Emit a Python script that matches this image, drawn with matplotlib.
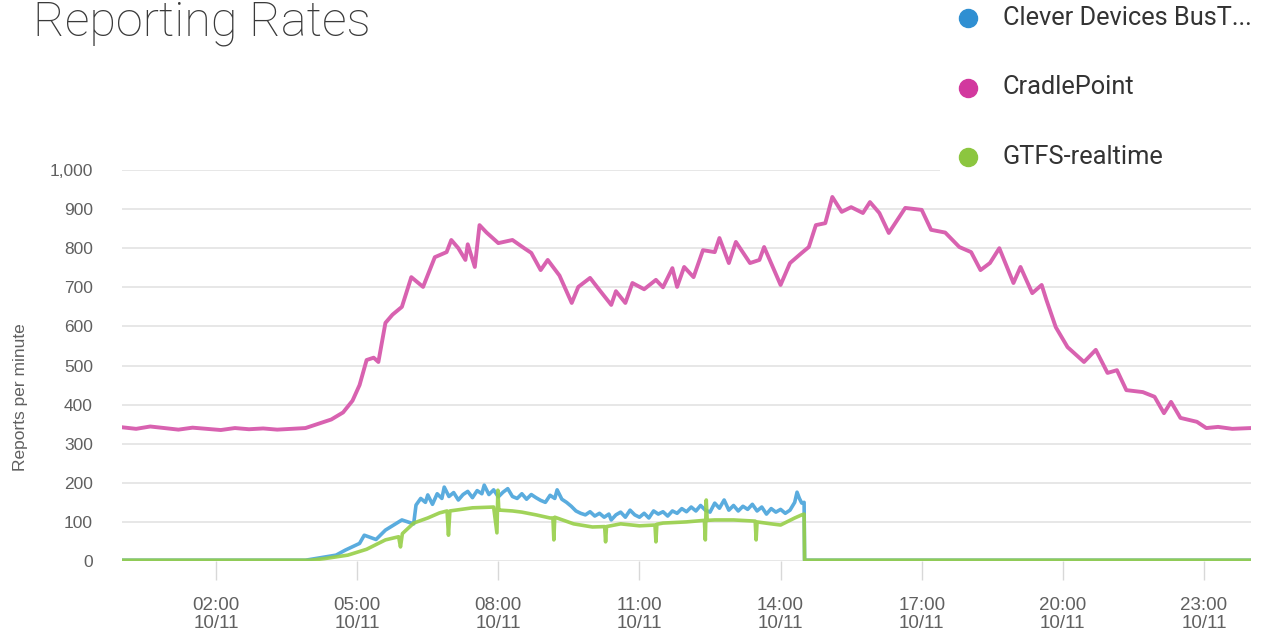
import matplotlib.pyplot as plt
from matplotlib.lines import Line2D
from matplotlib.patches import Rectangle

# series names (legend order)
series_names = ["Clever Devices BusT...", "CradlePoint", "GTFS-realtime"]

# CradlePoint readings: hour of day, reports per minute
cp_hours = [0.0, 0.3, 0.6, 0.9, 1.2, 1.5, 1.8, 2.1, 2.4, 2.7, 3.0, 3.3, 3.6, 3.9,
            4.2, 4.45, 4.7, 4.9, 5.05, 5.2, 5.35, 5.45, 5.6, 5.75, 5.95, 6.15, 6.4,
            6.65, 6.9, 7.0, 7.15, 7.3, 7.35, 7.5, 7.6, 7.75, 8.0, 8.3, 8.55, 8.7,
            8.9, 9.05, 9.3, 9.56, 9.7, 9.95, 10.15, 10.4, 10.5, 10.7, 10.85, 11.1,
            11.35, 11.5, 11.7, 11.8, 11.95, 12.15, 12.35, 12.6, 12.7, 12.9, 13.05,
            13.35, 13.55, 13.65, 14.0, 14.2, 14.45, 14.6, 14.75, 14.95, 15.1, 15.3,
            15.5, 15.75, 15.9, 16.1, 16.3, 16.65, 17.0, 17.2, 17.5, 17.8, 18.05,
            18.25, 18.45, 18.65, 18.95, 19.1, 19.35, 19.55, 19.65, 19.85, 20.1,
            20.45, 20.7, 20.95, 21.15, 21.35, 21.7, 21.95, 22.15, 22.3, 22.5, 22.85,
            23.05, 23.3, 23.6, 24.0]
cp_values = [342, 338, 344, 340, 336, 341, 338, 335, 340, 337, 339, 336, 338, 340,
             352, 362, 380, 410, 450, 514, 520, 509, 609, 630, 650, 726, 701,
             777, 790, 821, 800, 770, 810, 752, 859, 840, 813, 821, 800, 788,
             744, 770, 730, 660, 701, 724, 693, 655, 690, 660, 711, 695,
             719, 700, 749, 701, 752, 726, 795, 790, 826, 762, 816,
             762, 770, 803, 706, 762, 788, 803, 859, 864, 931, 893,
             905, 890, 918, 890, 839, 903, 898, 847, 840, 803, 790,
             744, 762, 800, 711, 752, 685, 706, 668, 598, 547,
             509, 540, 481, 488, 437, 432, 420, 378, 407, 366, 356,
             340, 343, 338, 340]

# Clever Devices readings
cd_hours = [0.0, 3.9, 4.2, 4.55, 4.75, 5.05, 5.15, 5.4, 5.6, 5.95, 6.2,
            6.25, 6.35, 6.45, 6.5, 6.6, 6.7, 6.8, 6.85, 6.95, 7.05, 7.15, 7.25,
            7.35, 7.45, 7.55, 7.65, 7.7, 7.8, 7.9, 8.0, 8.1, 8.2, 8.3, 8.4, 8.5,
            8.6, 8.7, 8.8, 8.9, 9.0, 9.1, 9.2, 9.25, 9.35, 9.45, 9.55, 9.65, 9.75,
            9.85, 9.95, 10.05, 10.15, 10.25, 10.35, 10.4, 10.5, 10.6, 10.7, 10.8,
            10.9, 11.0, 11.1, 11.2, 11.3, 11.4, 11.5, 11.6, 11.7, 11.8, 11.9,
            12.0, 12.1, 12.2, 12.3, 12.4, 12.5, 12.6, 12.7, 12.8, 12.9, 13.0,
            13.1, 13.2, 13.3, 13.4, 13.5, 13.6, 13.7, 13.8, 13.9, 14.0, 14.1,
            14.2, 14.3, 14.35, 14.4, 14.45, 14.5, 14.51, 24.0]
cd_values = [2, 2, 8, 15, 28, 45, 66, 55, 79, 105, 95,
             143, 160, 150, 169, 145, 172, 160, 189, 165, 175, 156, 170,
             178, 162, 180, 172, 194, 170, 182, 164, 176, 185, 165, 160, 172,
             158, 170, 162, 155, 150, 168, 160, 182, 158, 150, 140, 128, 122,
             118, 126, 115, 122, 112, 120, 105, 118, 125, 112, 130,
             118, 112, 122, 110, 128, 120, 126, 115, 128, 122, 134,
             126, 138, 128, 142, 130, 125, 148, 135, 156, 130, 142,
             128, 140, 132, 145, 128, 138, 120, 134, 125, 132, 122,
             130, 150, 176, 160, 148, 150, 2, 2]

# GTFS-realtime readings
gt_hours = [0.0, 4.0, 4.3, 4.8, 5.2, 5.6, 5.88, 5.92, 5.96, 6.2, 6.5, 6.75, 6.91,
            6.94, 6.97, 7.45, 7.9, 7.97, 7.99, 8.01, 8.05, 8.3, 8.5, 8.8, 9.1,
            9.16, 9.18, 9.2, 9.6, 10.0, 10.26, 10.28, 10.3, 10.6, 11.0, 11.33,
            11.35, 11.37, 11.5, 12.0, 12.38, 12.4, 12.42, 12.44, 12.6, 13.0, 13.46,
            13.48, 13.5, 13.8, 14.0, 14.3, 14.45, 14.5, 14.51, 24.0]
gt_values = [2, 2, 6, 15, 30, 54, 62, 36, 70, 97, 110, 123, 128,
             66, 128, 136, 138, 72, 181, 130, 130, 128, 125, 118, 110,
             110, 54, 112, 95, 87, 88, 49, 88, 95, 90, 92,
             49, 94, 97, 100, 104, 54, 156, 104, 105, 105, 102,
             54, 100, 95, 92, 110, 118, 120, 2, 2]

# x axis ticks
tick_hours = [2, 5, 8, 11, 14, 17, 20, 23]
tick_labels = ["02:00\n10/11", "05:00\n10/11", "08:00\n10/11", "11:00\n10/11",
               "14:00\n10/11", "17:00\n10/11", "20:00\n10/11", "23:00\n10/11"]
y_ticks = [0, 100, 200, 300, 400, 500, 600, 700, 800, 900, 1000]

line_colors = ["#5aacde", "#d862b0", "#97cf48"]
dot_colors = ["#2f8fd2", "#d2389e", "#8cc63f"]

W, H = 1271, 639
fig = plt.figure(figsize=(W / 100, H / 100), dpi=100)
ax = fig.add_axes([122 / W, 1 - 561 / H, (1251 - 122) / W, (561 - 170) / H])

ax.plot(cp_hours, cp_values, color=line_colors[1], lw=2.8, solid_joinstyle="round", zorder=3)
ax.plot(cd_hours, cd_values, color=line_colors[0], lw=2.6, solid_joinstyle="round", zorder=3)
ax.plot(gt_hours, gt_values, color=line_colors[2], lw=2.6, alpha=0.9, solid_joinstyle="round", zorder=4)

ax.set_xlim(0, 24)
ax.set_ylim(0, 1000)
ax.set_yticks(y_ticks)
ax.set_yticklabels([f"{v:,}" for v in y_ticks])
ax.set_xticks(tick_hours)
ax.set_xticklabels(tick_labels, linespacing=1.1)
ax.grid(axis="y", color="#e3e3e3", lw=1.2, zorder=0)
for s in ax.spines.values():
    s.set_visible(False)
ax.tick_params(axis="y", length=0, pad=21, labelsize=12.5, labelcolor="#606060")
ax.tick_params(axis="x", length=14, width=1, color="#d8d8d8", pad=12,
               labelsize=13.5, labelcolor="#606060")
for lab in ax.get_yticklabels() + ax.get_xticklabels():
    lab.set_family("Liberation Sans")
ax.set_ylabel("Reports per minute", fontsize=12.5, color="#606060",
              family="Liberation Sans")
ax.yaxis.set_label_coords(-0.083, 0.42)

fig.text(33 / W, 1 - 36 / H, "Reporting Rates", fontsize=35, family="Roboto",
         fontweight="light", color="#3a3a3a", va="baseline")

# legend box (covers the top gridline on the right)
fig.add_artist(Rectangle((940 / W, 1 - 185 / H), (W - 940) / W, 185 / H,
                         transform=fig.transFigure, facecolor="white",
                         edgecolor="none", zorder=5))
for i, name in enumerate(series_names):
    yy = 1 - (18 + 69.5 * i) / H
    fig.add_artist(Line2D([968 / W], [yy], marker="o", markersize=13,
                          color=dot_colors[i], linestyle="", zorder=6,
                          transform=fig.transFigure))
    fig.text(1003 / W, yy, name, fontsize=18.3, family="Roboto",
             color="#333333", va="center", zorder=6)

fig.savefig("out.png", dpi=100, facecolor="white")
